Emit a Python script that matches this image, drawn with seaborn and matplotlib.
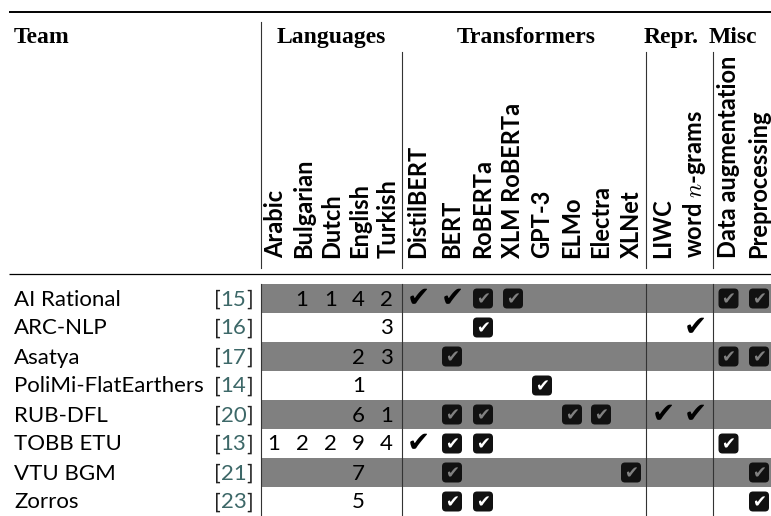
import matplotlib
matplotlib.use("Agg")
import matplotlib.pyplot as plt
from matplotlib.colors import ListedColormap
from matplotlib.patches import FancyBboxPatch
import numpy as np
import seaborn as sns

# ---- table content -------------------------------------------------------
teams = ["AI Rational", "ARC-NLP", "Asatya", "PoliMi-FlatEarthers",
         "RUB-DFL", "TOBB ETU", "VTU BGM", "Zorros"]
refs = ["15", "16", "17", "14", "20", "13", "21", "23"]

languages = ["Arabic", "Bulgarian", "Dutch", "English", "Turkish"]
lang_counts = [
    ["", "1", "1", "4", "2"],
    ["", "", "", "", "3"],
    ["", "", "", "2", "3"],
    ["", "", "", "1", ""],
    ["", "", "", "6", "1"],
    ["1", "2", "2", "9", "4"],
    ["", "", "", "7", ""],
    ["", "", "", "5", ""],
]

transformers = ["DistilBERT", "BERT", "RoBERTa", "XLM RoBERTa", "GPT-3",
                "ELMo", "Electra", "XLNet"]
representations = ["LIWC", "word $n$-grams"]
misc = ["Data augmentation", "Preprocessing"]

# 0 = empty, 1 = plain check, 2 = boxed check
transformer_marks = [
    [1, 1, 2, 2, 0, 0, 0, 0],
    [0, 0, 2, 0, 0, 0, 0, 0],
    [0, 2, 0, 0, 0, 0, 0, 0],
    [0, 0, 0, 0, 2, 0, 0, 0],
    [0, 2, 2, 0, 0, 2, 2, 0],
    [1, 2, 2, 0, 0, 0, 0, 0],
    [0, 2, 0, 0, 0, 0, 0, 2],
    [0, 2, 2, 0, 0, 0, 0, 0],
]
repr_marks = [[0, 0], [0, 1], [0, 0], [0, 0], [1, 1], [0, 0], [0, 0], [0, 0]]
misc_marks = [[2, 2], [0, 0], [2, 2], [0, 0], [0, 0], [2, 0], [0, 2], [0, 2]]

groups = ["Languages", "Transformers", "Repr.", "Misc"]

# ---- layout (pixels) -----------------------------------------------------
W, H = 771, 516
GRAY = "#808080"
ROW_TOP, ROW_H = 284, 29
lang_right = [261 + 28.2 * (i + 1) for i in range(len(languages))]
trans_x = [418, 452, 483, 513, 542, 572, 601, 631]
repr_x = [663, 695]
misc_x = [728.5, 759]
group_x = [331, 526, 671, 733]
vlines = [(261, 22), (402, 52), (646, 52), (713, 52)]

plt.rcParams["mathtext.fontset"] = "cm"
head_font = dict(family="Liberation Serif", weight="bold", fontsize=17)
col_font = dict(family="Lato", weight="bold", fontsize=17)
row_font = dict(family="Lato", fontsize=16)

fig = plt.figure(figsize=(W / 100, H / 100), dpi=100)

# striped row background drawn as a seaborn heatmap
ax_bg = fig.add_axes([261 / W, 0, (W - 261) / W, len(teams) * ROW_H / H])
stripes = np.array([[(i + 1) % 2] for i in range(len(teams))])
sns.heatmap(stripes, ax=ax_bg, cmap=ListedColormap(["white", GRAY]),
            vmin=0, vmax=1, cbar=False, xticklabels=False, yticklabels=False)
ax_bg.set_axis_off()

ax = fig.add_axes([0, 0, 1, 1])
ax.set_xlim(0, W)
ax.set_ylim(H, 0)
ax.set_axis_off()
ax.patch.set_alpha(0)

# rules
ax.plot([9, W], [12, 12], color="black", lw=1.4, solid_capstyle="butt")
ax.plot([9, W], [274, 274], color="black", lw=0.9, solid_capstyle="butt")
for x, top in vlines:
    ax.plot([x, x], [top, 268], color="#333333", lw=0.8)
    ax.plot([x, x], [ROW_TOP, H], color="#333333", lw=0.8)

# header
ax.text(14, 43, "Team", ha="left", va="baseline", **head_font)
for g, gx in zip(groups, group_x):
    ax.text(gx, 43, g, ha="center", va="baseline", **head_font)

col_labels = ([(r - 14, name) for r, name in zip(lang_right, languages)]
              + list(zip(trans_x, transformers))
              + list(zip(repr_x, representations))
              + list(zip(misc_x, misc)))
for x, name in col_labels:
    ax.text(x, 258, name, rotation=90, rotation_mode="anchor",
            ha="left", va="center", **col_font)


def check(x, y, bg, boxed):
    if boxed:
        ax.add_patch(FancyBboxPatch((x - 8, y - 8), 16, 16,
                                    boxstyle="round,pad=2,rounding_size=4",
                                    fc="#111111", ec="none"))
        ax.text(x, y + 0.5, "\u2714", family="DejaVu Sans", fontsize=12,
                color=bg, ha="center", va="center")
    else:
        ax.text(x, y, "\u2714", family="DejaVu Sans", fontsize=20,
                color="black", ha="center", va="center")


for i, team in enumerate(teams):
    yc = ROW_TOP + ROW_H * i + ROW_H / 2
    base = yc + 7
    bg = GRAY if i % 2 == 0 else "white"
    ax.text(14, base, team, ha="left", va="baseline", **row_font)
    rb = ax.text(253, base, "]", ha="right", va="baseline",
                 color="#222222", **row_font)
    num = ax.annotate(refs[i], xy=(0, 0), xycoords=rb, ha="right",
                      va="bottom", color="#3d6868", **row_font)
    ax.annotate("[", xy=(0, 0), xycoords=num, ha="right", va="bottom",
                color="#222222", **row_font)
    for r, val in zip(lang_right, lang_counts[i]):
        if val:
            ax.text(r - 9, base, val, ha="right", va="baseline", **row_font)
    marks = transformer_marks[i] + repr_marks[i] + misc_marks[i]
    for x, m in zip(trans_x + repr_x + misc_x, marks):
        if m:
            check(x, yc, bg, m == 2)

fig.savefig("out.png", dpi=100)
